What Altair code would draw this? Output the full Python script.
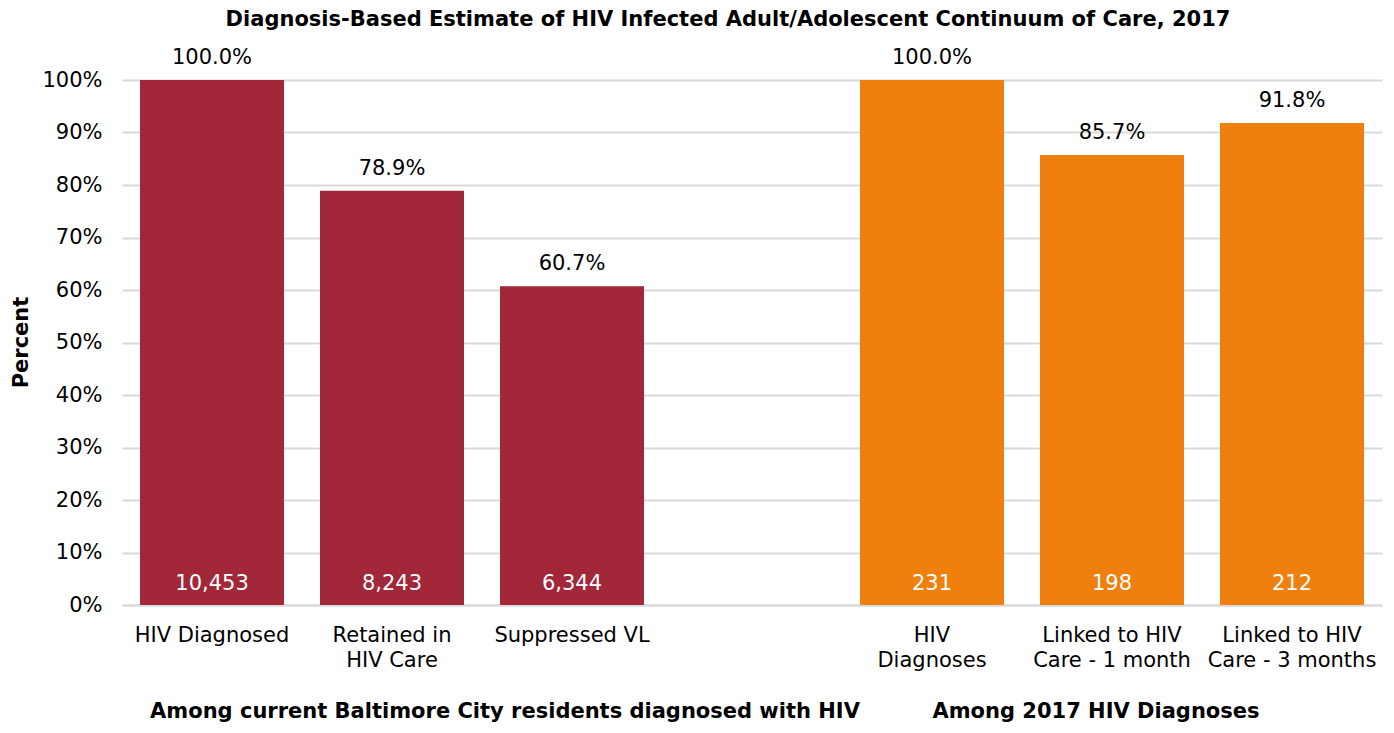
import altair as alt
import pandas as pd

# ---- data ----
categories = [
    "HIV Diagnosed",
    "Retained in|HIV Care",
    "Suppressed VL",
    "HIV|Diagnoses",
    "Linked to HIV|Care - 1 month",
    "Linked to HIV|Care - 3 months",
]
percents = [100.0, 78.9, 60.7, 100.0, 85.7, 91.8]
counts = [10453, 8243, 6344, 231, 198, 212]
group_names = [
    "Among current Baltimore City residents diagnosed with HIV",
    "Among 2017 HIV Diagnoses",
]
groups = [group_names[0]] * 3 + [group_names[1]] * 3
y_ticks = [0, 10, 20, 30, 40, 50, 60, 70, 80, 90, 100]
title_text = "Diagnosis-Based Estimate of HIV Infected Adult/Adolescent Continuum of Care, 2017"

GAP = " "
x_domain = categories[:3] + [GAP] + categories[3:]
bar_colors = ["#A12739", "#EF800E"]
FONT = "DejaVu Sans"
W, H = 1260, 525

df = pd.DataFrame({
    "category": categories,
    "percent": percents,
    "count": counts,
    "group": groups,
})

base = alt.Chart(df).transform_calculate(
    pct_label="format(datum.percent, '.1f') + '%'",
    count_label="format(datum.count, ',d')",
).encode(
    x=alt.X(
        "category:N",
        scale=alt.Scale(domain=x_domain, paddingInner=0.2, paddingOuter=0.1),
        axis=alt.Axis(
            title=None,
            labelAngle=0,
            labelExpr="split(datum.value, '|')",
            labelFontSize=21,
            labelFont=FONT,
            labelColor="#000000",
            labelLineHeight=25,
            labelPadding=19,
            labelLimit=400,
            ticks=False,
            domainColor="#D9D9D9",
            domainWidth=2,
            grid=False,
        ),
    )
)

y_scale = alt.Scale(domain=[0, 100], nice=False)

bars = base.mark_bar().encode(
    y=alt.Y(
        "percent:Q",
        scale=y_scale,
        axis=alt.Axis(
            values=y_ticks,
            labelExpr="datum.value + '%'",
            labelFontSize=21,
            labelFont=FONT,
            labelColor="#000000",
            labelPadding=20,
            ticks=False,
            domain=False,
            grid=True,
            gridColor="#D9D9D9",
            gridWidth=2,
            title="Percent",
            titleFont=FONT,
            titleFontSize=21,
            titleFontWeight="bold",
            titleColor="#000000",
            titleX=-101,
            titleY=262,
            titleAngle=-90,
            titleAlign="center",
            titleBaseline="middle",
        ),
    ),
    color=alt.Color(
        "group:N",
        scale=alt.Scale(domain=group_names, range=bar_colors),
        legend=None,
    ),
)

top_labels = base.mark_text(
    baseline="alphabetic", dy=-16, fontSize=21, font=FONT, color="#000000"
).encode(
    y=alt.Y("percent:Q", scale=y_scale),
    text="pct_label:N",
)

count_labels = base.mark_text(
    baseline="middle", dy=-21, fontSize=21, font=FONT, color="#FFFFFF"
).encode(
    y=alt.datum(0),
    text="count_label:N",
)

title_mark = alt.Chart(pd.DataFrame({"t": [title_text]})).mark_text(
    fontSize=21, fontWeight="bold", font=FONT, color="#000000",
    align="center", baseline="middle",
).encode(text="t:N", x=alt.value(606), y=alt.value(-60))

grp1 = alt.Chart(pd.DataFrame({"t": [group_names[0]]})).mark_text(
    fontSize=21, fontWeight="bold", font=FONT, color="#000000",
    align="center", baseline="middle",
).encode(text="t:N", x=alt.value(383), y=alt.value(632))

grp2 = alt.Chart(pd.DataFrame({"t": [group_names[1]]})).mark_text(
    fontSize=21, fontWeight="bold", font=FONT, color="#000000",
    align="center", baseline="middle",
).encode(text="t:N", x=alt.value(974), y=alt.value(632))

chart = alt.layer(bars, top_labels, count_labels, title_mark, grp1, grp2).properties(
    width=W,
    height=H,
    autosize=alt.AutoSizeParams(type="none"),
    padding={"left": 114, "top": 72, "right": 2, "bottom": 118},
).configure_view(stroke=None)

chart.save("out.html", embed_options={"renderer": "svg", "actions": False})
